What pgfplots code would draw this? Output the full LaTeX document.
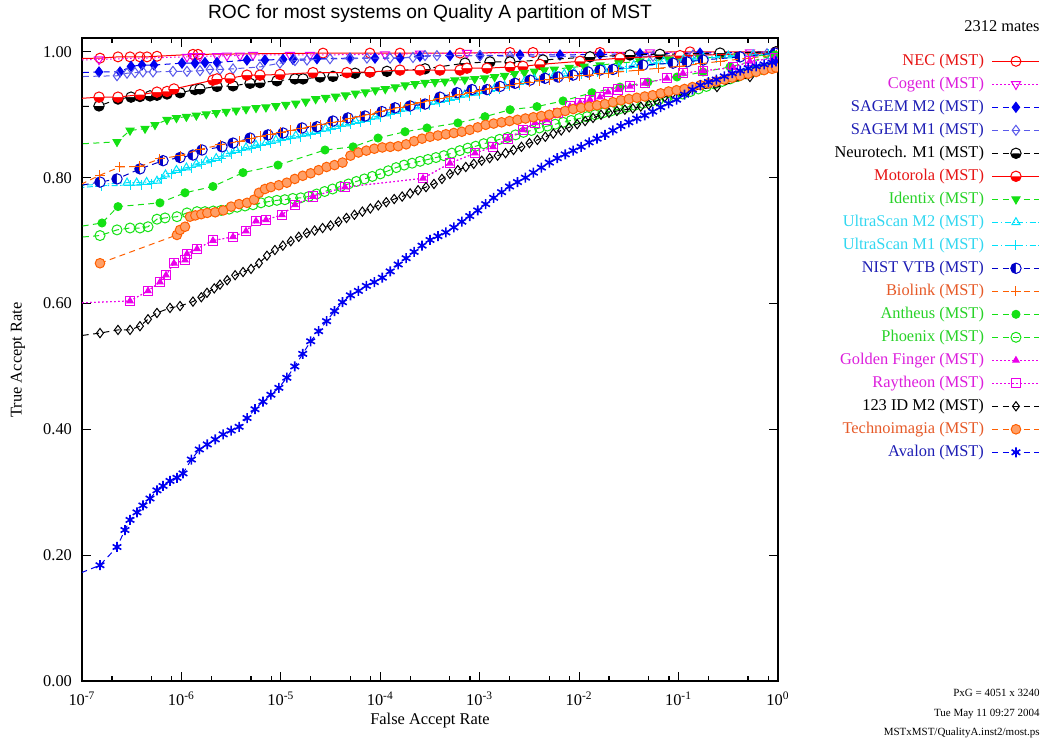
\documentclass[border=0pt]{standalone}
\usepackage{fontspec}
\setmainfont{Liberation Serif}
\newfontfamily\titlefont{Liberation Sans}
\usepackage{pgfplots}
\pgfplotsset{compat=1.18}
\definecolor{cRed}{RGB}{255,0,0}
\definecolor{cMag}{RGB}{235,0,235}
\definecolor{cBlue}{RGB}{0,0,240}
\definecolor{cBlueL}{RGB}{90,90,235}
\definecolor{cGreen}{RGB}{20,225,20}
\definecolor{cCyan}{RGB}{0,225,250}
\definecolor{cNavy}{RGB}{0,0,200}
\definecolor{cOrange}{RGB}{255,95,0}
\definecolor{tRed}{RGB}{230,20,20}
\definecolor{tMag}{RGB}{220,30,220}
\definecolor{tBlue}{RGB}{30,30,180}
\definecolor{tGreen}{RGB}{40,210,40}
\definecolor{tCyan}{RGB}{50,215,240}
\definecolor{tOrange}{RGB}{230,90,40}
\tikzset{dsh/.style={dash pattern=on 3pt off 2.2pt}, dtt/.style={dash pattern=on 0.8pt off 1.2pt}, dshdot/.style={dash pattern=on 3pt off 1.2pt on 0.8pt off 1.2pt}}
\begin{document}
\begin{tikzpicture}
\useasboundingbox (0,0) rectangle (522pt,370.5pt);
\begin{axis}[
  at={(41pt,30pt)}, anchor=south west,
  scale only axis, width=348pt, height=321.5pt,
  xmin=-7, xmax=0, ymin=0, ymax=1.022,
  xtick={-7,-6,-5,-4,-3,-2,-1,0},
  xticklabels={10\textsuperscript{-7},10\textsuperscript{-6},10\textsuperscript{-5},10\textsuperscript{-4},10\textsuperscript{-3},10\textsuperscript{-2},10\textsuperscript{-1},10\textsuperscript{0}},
  minor xtick={-6.699,-6.301,-6.097,-5.699,-5.301,-5.097,-4.699,-4.301,-4.097,-3.699,-3.301,-3.097,-2.699,-2.301,-2.097,-1.699,-1.301,-1.097,-0.699,-0.301,-0.097},
  ytick={0,0.2,0.4,0.6,0.8,1.0},
  yticklabels={0.00,0.20,0.40,0.60,0.80,1.00},
  tick align=inside,
  major tick length=4.5pt, minor tick length=2.5pt,
  tick style={black, line width=0.6pt},
  axis line style={line width=0.8pt},
  ticklabel style={font=\fontsize{8.2}{9}\selectfont},
  yticklabel style={xshift=-1.5pt},
  xticklabel style={yshift=-2pt},
  clip marker paths=true,
  every axis plot/.append style={line width=0.5pt},
  legend cell align=right,
  legend plot pos=right,
  legend image code/.code={\draw[mark repeat=2,mark phase=2] plot coordinates {(0pt,0pt) (11.75pt,0pt) (23.5pt,0pt)};},
  legend style={at={(1.3764,0.977)}, anchor=north east, draw=none, fill=none, inner sep=0pt, outer sep=0pt,
    font=\fontsize{8.2}{9}\selectfont, row sep=3pt, column sep=4pt,
    nodes={inner sep=0pt, text height=6.3pt, text depth=2.2pt}},
]
% NEC
\addplot[cRed, solid, mark=o, mark size=2.5pt, mark options={solid}] coordinates {(-7.2,0.989) (-6.819,0.990) (-6.638,0.992) (-6.517,0.992) (-6.417,0.992) (-6.346,0.992) (-6.246,0.993) (-5.884,0.996) (-5.833,0.996) (-4.576,0.998) (-4.104,0.998) (-3.802,0.998) (-3.198,0.998) (-2.695,0.999) (-2.464,0.999) (-1.790,0.999) (-0.885,1.0) (-0.02,1.0)};
\addlegendentry{\textcolor{tRed}{NEC (MST)}}
% Cogent
\addplot[cMag, dtt, mark=triangle, mark size=2.6pt, mark options={solid, rotate=180}] coordinates {(-7.2,0.986) (-6.829,0.988) (-5.944,0.992) (-5.884,0.993) (-5.813,0.993) (-5.642,0.993) (-5.542,0.994) (-5.411,0.994) (-5.280,0.995) (-4.908,0.995) (-4.707,0.995) (-3.953,0.996) (-3.601,0.997) (-3.128,0.998) (-1.288,0.999) (-0.282,0.999) (-0.02,1.0)};
\addlegendentry{\textcolor{tMag}{Cogent (MST)}}
% SAGEM M2
\addplot[cBlue, dsh, mark=diamond*, mark size=2.5pt, mark options={solid}] coordinates {(-7.2,0.966) (-6.829,0.968) (-6.618,0.968) (-6.507,0.977) (-6.397,0.979) (-6.276,0.979) (-5.994,0.982) (-5.864,0.982) (-5.763,0.983) (-5.642,0.983) (-5.341,0.987) (-5.160,0.987) (-4.978,0.988) (-4.878,0.988) (-4.637,0.989) (-4.305,0.990) (-4.053,0.990) (-3.802,0.990) (-3.601,0.993) (-3.299,0.994) (-2.997,0.994) (-2.595,0.995) (-2.193,0.995) (-1.790,0.996) (-1.388,0.997) (-0.784,0.998) (-0.02,1.0)};
\addlegendentry{\textcolor{tBlue}{SAGEM M2 (MST)}}
% SAGEM M1
\addplot[cBlueL, dsh, mark=diamond, mark size=2.5pt, mark options={solid}] coordinates {(-7.2,0.960) (-6.648,0.962) (-6.547,0.966) (-6.467,0.967) (-6.387,0.968) (-6.286,0.968) (-6.085,0.969) (-5.944,0.969) (-5.813,0.970) (-5.713,0.972) (-5.612,0.972) (-5.481,0.973) (-5.210,0.976) (-5.009,0.982) (-4.858,0.986) (-4.737,0.987) (-4.506,0.989) (-4.305,0.989) (-4.134,0.990) (-3.902,0.990) (-3.671,0.991) (-3.550,0.994) (-3.430,0.994) (-2.997,0.994) (-2.695,0.993) (-1.891,0.992) (-1.257,0.993) (-0.855,0.995) (-0.111,0.997)};
\addlegendentry{\textcolor{tBlue}{SAGEM M1 (MST)}}
% Neurotech
\addplot[black, dsh, mark=halfcircle*, mark size=2.6pt, mark options={solid, fill=black, rotate=180}] coordinates {(-7.2,0.912) (-6.829,0.914) (-6.638,0.925) (-6.507,0.928) (-6.417,0.929) (-6.316,0.930) (-6.246,0.931) (-6.145,0.933) (-6.014,0.935) (-5.864,0.940) (-5.813,0.941) (-5.642,0.945) (-5.481,0.946) (-5.310,0.950) (-5.210,0.951) (-5.039,0.954) (-4.858,0.957) (-4.777,0.957) (-4.606,0.960) (-4.476,0.961) (-4.254,0.966) (-4.104,0.968) (-3.933,0.969) (-3.550,0.973) (-3.148,0.982) (-2.897,0.984) (-2.695,0.984) (-2.364,0.987) (-1.891,0.992) (-1.489,0.995) (-1.187,0.996) (-0.583,0.998) (-0.02,1.0)};
\addlegendentry{\textcolor{black}{Neurotech. M1 (MST)}}
% Motorola
\addplot[cRed, solid, mark=halfcircle*, mark size=2.6pt, mark options={solid, fill=cRed, rotate=180}] coordinates {(-7.2,0.924) (-6.829,0.928) (-6.638,0.928) (-6.417,0.932) (-6.246,0.936) (-6.145,0.937) (-6.075,0.941) (-5.683,0.955) (-5.642,0.957) (-5.512,0.958) (-5.341,0.963) (-5.210,0.963) (-5.009,0.964) (-4.677,0.967) (-4.335,0.967) (-4.104,0.968) (-3.802,0.971) (-3.601,0.971) (-3.400,0.971) (-3.198,0.971) (-3.128,0.974) (-2.927,0.974) (-2.695,0.976) (-2.565,0.977) (-2.394,0.980) (-1.991,0.985) (-1.589,0.990) (-0.986,0.994) (-0.02,0.998)};
\addlegendentry{\textcolor{tRed}{Motorola (MST)}}
% Identix
\addplot[cGreen, dsh, mark=triangle*, mark size=2.3pt, mark options={solid, rotate=180}] coordinates {(-7.2,0.852) (-6.648,0.857) (-6.517,0.875) (-6.366,0.878) (-6.266,0.884) (-6.145,0.892) (-6.05,0.895) (-5.95,0.897) (-5.85,0.899) (-5.75,0.901) (-5.65,0.903) (-5.55,0.905) (-5.45,0.907) (-5.35,0.909) (-5.25,0.911) (-5.15,0.912) (-5.05,0.914) (-4.95,0.916) (-4.85,0.918) (-4.75,0.921) (-4.65,0.925) (-4.55,0.927) (-4.45,0.929) (-4.35,0.931) (-4.25,0.934) (-4.15,0.936) (-4.05,0.939) (-3.95,0.941) (-3.85,0.944) (-3.75,0.947) (-3.65,0.949) (-3.55,0.951) (-3.45,0.952) (-3.35,0.953) (-3.25,0.955) (-3.15,0.956) (-3.05,0.957) (-2.95,0.958) (-2.85,0.960) (-2.75,0.962) (-2.65,0.965) (-2.55,0.967) (-2.45,0.969) (-2.35,0.971) (-2.25,0.972) (-2.10,0.975) (-1.95,0.977) (-1.79,0.979) (-1.6,0.982) (-1.39,0.985) (-1.1,0.988) (-0.78,0.990) (-0.4,0.993) (-0.02,0.995)};
\addlegendentry{\textcolor{tGreen}{Identix (MST)}}
% UltraScan M2
\addplot[cCyan, dshdot, mark=triangle, mark size=2.3pt, mark options={solid}] coordinates {(-7.2,0.786) (-6.547,0.792) (-6.45,0.792) (-6.35,0.793) (-6.246,0.795) (-6.16,0.805) (-6.05,0.812) (-5.95,0.816) (-5.85,0.822) (-5.75,0.827) (-5.65,0.831) (-5.55,0.838) (-5.45,0.844) (-5.35,0.848) (-5.25,0.852) (-5.15,0.856) (-5.05,0.860) (-4.95,0.864) (-4.85,0.867) (-4.75,0.870) (-4.65,0.874) (-4.55,0.878) (-4.45,0.882) (-4.35,0.886) (-4.25,0.890) (-4.15,0.893) (-4.05,0.897) (-3.95,0.902) (-3.85,0.906) (-3.75,0.910) (-3.65,0.913) (-3.55,0.917) (-3.45,0.921) (-3.35,0.925) (-3.25,0.928) (-3.15,0.932) (-3.05,0.935) (-2.95,0.938) (-2.85,0.942) (-2.75,0.946) (-2.65,0.950) (-2.55,0.953) (-2.45,0.957) (-2.35,0.960) (-2.25,0.963) (-2.15,0.965) (-2.05,0.967) (-1.9,0.969) (-1.75,0.972) (-1.6,0.975) (-1.45,0.979) (-1.3,0.982) (-1.15,0.985) (-0.95,0.988) (-0.75,0.991) (-0.5,0.994) (-0.25,0.996) (-0.02,0.998)};
\addlegendentry{\textcolor{tCyan}{UltraScan M2 (MST)}}
% UltraScan M1
\addplot[cCyan, dshdot, mark=+, mark size=2.5pt, mark options={solid}] coordinates {(-7.2,0.782) (-6.799,0.787) (-6.517,0.788) (-6.40,0.789) (-6.30,0.790) (-6.20,0.798) (-6.10,0.806) (-6.00,0.811) (-5.90,0.816) (-5.80,0.821) (-5.70,0.825) (-5.60,0.831) (-5.50,0.838) (-5.40,0.843) (-5.30,0.847) (-5.20,0.851) (-5.10,0.855) (-5.00,0.859) (-4.90,0.862) (-4.80,0.865) (-4.70,0.869) (-4.60,0.873) (-4.50,0.877) (-4.40,0.881) (-4.30,0.885) (-4.20,0.888) (-4.10,0.892) (-4.00,0.897) (-3.90,0.901) (-3.80,0.905) (-3.70,0.908) (-3.60,0.912) (-3.50,0.916) (-3.40,0.920) (-3.30,0.923) (-3.20,0.927) (-3.10,0.930) (-3.00,0.933) (-2.90,0.937) (-2.80,0.941) (-2.70,0.945) (-2.60,0.948) (-2.50,0.952) (-2.40,0.955) (-2.30,0.958) (-2.20,0.961) (-2.10,0.963) (-1.98,0.965) (-1.82,0.968) (-1.67,0.971) (-1.52,0.974) (-1.37,0.978) (-1.22,0.981) (-1.05,0.984) (-0.85,0.987) (-0.62,0.991) (-0.38,0.993) (-0.1,0.996)};
\addlegendentry{\textcolor{tCyan}{UltraScan M1 (MST)}}
% NIST VTB
\addplot[cNavy, dsh, mark=halfcircle*, mark size=2.6pt, mark options={solid, fill=cNavy, rotate=90}] coordinates {(-7.2,0.783) (-6.819,0.793) (-6.648,0.798) (-6.417,0.814) (-6.185,0.827) (-6.014,0.832) (-5.884,0.836) (-5.793,0.844) (-5.592,0.849) (-5.481,0.855) (-5.310,0.863) (-5.129,0.868) (-4.978,0.871) (-4.787,0.879) (-4.637,0.881) (-4.476,0.890) (-4.325,0.895) (-4.154,0.898) (-3.983,0.905) (-3.852,0.911) (-3.701,0.914) (-3.550,0.917) (-3.400,0.928) (-3.229,0.935) (-3.078,0.940) (-2.927,0.940) (-2.796,0.945) (-2.645,0.950) (-2.494,0.955) (-2.343,0.958) (-2.213,0.960) (-2.062,0.963) (-1.911,0.968) (-1.790,0.971) (-1.660,0.972) (-1.358,0.979) (-1.056,0.982) (-0.915,0.984) (-0.754,0.987) (-0.382,0.992) (-0.03,0.998)};
\addlegendentry{\textcolor{tBlue}{NIST VTB (MST)}}
% Biolink
\addplot[cOrange, dsh, mark=+, mark size=2.5pt, mark options={solid}] coordinates {(-7.2,0.775) (-6.819,0.804) (-6.618,0.817) (-6.417,0.818) (-6.216,0.830) (-6.014,0.835) (-5.813,0.845) (-5.612,0.852) (-5.411,0.858) (-5.30,0.862) (-5.20,0.866) (-5.10,0.869) (-5.00,0.872) (-4.90,0.875) (-4.80,0.878) (-4.70,0.881) (-4.60,0.884) (-4.50,0.887) (-4.40,0.890) (-4.30,0.894) (-4.20,0.898) (-4.10,0.901) (-4.00,0.905) (-3.90,0.909) (-3.80,0.912) (-3.70,0.916) (-3.60,0.919) (-3.50,0.923) (-3.40,0.926) (-3.30,0.929) (-3.20,0.932) (-3.10,0.935) (-3.00,0.938) (-2.90,0.941) (-2.80,0.944) (-2.70,0.947) (-2.60,0.950) (-2.50,0.952) (-2.40,0.954) (-2.30,0.956) (-2.20,0.958) (-2.10,0.960) (-2.00,0.962) (-1.90,0.963) (-1.80,0.965) (-1.70,0.966) (-1.60,0.968) (-1.40,0.971) (-1.20,0.974) (-0.99,0.977) (-0.78,0.981) (-0.58,0.985) (-0.3,0.990) (-0.02,0.995)};
\addlegendentry{\textcolor{tOrange}{Biolink (MST)}}
% Antheus
\addplot[cGreen, dsh, mark=*, mark size=2pt, mark options={solid}] coordinates {(-7.2,0.718) (-6.799,0.728) (-6.638,0.754) (-6.216,0.760) (-5.964,0.776) (-5.683,0.786) (-5.381,0.808) (-5.029,0.820) (-4.556,0.844) (-4.274,0.849) (-4.023,0.863) (-3.751,0.873) (-3.530,0.879) (-3.219,0.887) (-2.947,0.897) (-2.695,0.908) (-2.424,0.913) (-2.162,0.922) (-1.871,0.935) (-1.589,0.944) (-1.308,0.952) (-1.016,0.960) (-0.754,0.968) (-0.483,0.976) (-0.03,0.995)};
\addlegendentry{\textcolor{tGreen}{Antheus (MST)}}
% Phoenix
\addplot[cGreen, dsh, mark=o, mark size=2.5pt, mark options={solid}] coordinates {(-7.2,0.703) (-6.819,0.708) (-6.648,0.717) (-6.517,0.720) (-6.417,0.720) (-6.336,0.722) (-6.246,0.734) (-6.165,0.736) (-6.045,0.738) (-5.944,0.744) (-5.843,0.746) (-5.763,0.746) (-5.68,0.747) (-5.60,0.748) (-5.52,0.750) (-5.44,0.753) (-5.36,0.755) (-5.28,0.757) (-5.20,0.760) (-5.12,0.762) (-5.04,0.764) (-4.96,0.765) (-4.88,0.767) (-4.80,0.768) (-4.72,0.770) (-4.64,0.774) (-4.56,0.778) (-4.48,0.782) (-4.40,0.786) (-4.32,0.790) (-4.24,0.794) (-4.16,0.798) (-4.08,0.802) (-4.00,0.806) (-3.92,0.811) (-3.84,0.816) (-3.76,0.820) (-3.68,0.823) (-3.60,0.826) (-3.52,0.829) (-3.44,0.832) (-3.36,0.835) (-3.28,0.839) (-3.20,0.843) (-3.12,0.847) (-3.04,0.850) (-2.96,0.854) (-2.88,0.857) (-2.80,0.861) (-2.72,0.864) (-2.64,0.868) (-2.56,0.872) (-2.48,0.875) (-2.40,0.879) (-2.32,0.882) (-2.24,0.885) (-2.16,0.888) (-2.08,0.891) (-2.00,0.894) (-1.92,0.897) (-1.84,0.900) (-1.76,0.903) (-1.68,0.906) (-1.60,0.909) (-1.52,0.912) (-1.44,0.915) (-1.36,0.918) (-1.28,0.921) (-1.20,0.924) (-1.12,0.927) (-1.04,0.930) (-0.96,0.933) (-0.88,0.937) (-0.80,0.941) (-0.72,0.945) (-0.64,0.949) (-0.56,0.953) (-0.48,0.957) (-0.40,0.961) (-0.32,0.965) (-0.24,0.969) (-0.16,0.972) (-0.08,0.975) (-0.02,0.978)};
\addlegendentry{\textcolor{tGreen}{Phoenix (MST)}}
% Golden Finger
\addplot[cMag, dtt, mark=triangle*, mark size=1.8pt, mark options={solid}] coordinates {(-7.2,0.600) (-6.517,0.604) (-6.336,0.620) (-6.216,0.634) (-6.155,0.645) (-6.075,0.664) (-5.964,0.669) (-5.944,0.679) (-5.843,0.687) (-5.683,0.700) (-5.481,0.706) (-5.351,0.715) (-5.250,0.731) (-5.149,0.733) (-4.989,0.741) (-4.858,0.757) (-4.677,0.770) (-4.355,0.785) (-3.570,0.799) (-3.299,0.823) (-3.047,0.839) (-2.866,0.849) (-2.716,0.862) (-2.565,0.876) (-2.444,0.887) (-2.323,0.892) (-2.213,0.903) (-2.092,0.913) (-1.991,0.919) (-1.891,0.924) (-1.790,0.928) (-1.710,0.936) (-1.609,0.940) (-1.489,0.945) (-1.338,0.950) (-1.117,0.958) (-0.956,0.966) (-0.754,0.970) (-0.453,0.975) (-0.282,0.985) (-0.03,0.990)};
\addlegendentry{\textcolor{tMag}{Golden Finger (MST)}}
% Raytheon
\addplot[cMag, dtt, mark=square, mark size=2.3pt, mark options={solid}] coordinates {(-7.2,0.600) (-6.517,0.604) (-6.336,0.620) (-6.216,0.634) (-6.155,0.645) (-6.075,0.664) (-5.964,0.669) (-5.944,0.679) (-5.843,0.687) (-5.683,0.700) (-5.481,0.706) (-5.351,0.715) (-5.250,0.731) (-5.149,0.733) (-4.989,0.741) (-4.858,0.757) (-4.677,0.770) (-4.355,0.785) (-3.570,0.799) (-3.299,0.823) (-3.047,0.839) (-2.866,0.849) (-2.716,0.862) (-2.565,0.876) (-2.444,0.887) (-2.323,0.892) (-2.213,0.903) (-2.092,0.913) (-1.991,0.919) (-1.891,0.924) (-1.790,0.928) (-1.710,0.936) (-1.609,0.940) (-1.489,0.945) (-1.338,0.950) (-1.117,0.958) (-0.956,0.966) (-0.754,0.970) (-0.453,0.975) (-0.282,0.985) (-0.03,0.990)};
\addlegendentry{\textcolor{tMag}{Raytheon (MST)}}
% 123 ID M2
\addplot[black, dsh, mark=diamond, mark size=2.3pt, mark options={solid}] coordinates {(-7.2,0.545) (-6.819,0.553) (-6.638,0.558) (-6.517,0.558) (-6.417,0.564) (-6.336,0.575) (-6.246,0.585) (-6.115,0.593) (-6.014,0.596) (-5.884,0.603) (-5.80,0.610) (-5.743,0.617) (-5.67,0.624) (-5.612,0.630) (-5.54,0.637) (-5.46,0.645) (-5.38,0.650) (-5.30,0.655) (-5.22,0.664) (-5.14,0.676) (-5.06,0.685) (-4.98,0.692) (-4.90,0.699) (-4.82,0.706) (-4.74,0.712) (-4.66,0.716) (-4.58,0.720) (-4.50,0.724) (-4.42,0.730) (-4.34,0.736) (-4.26,0.741) (-4.18,0.746) (-4.10,0.751) (-4.02,0.756) (-3.94,0.761) (-3.86,0.766) (-3.78,0.770) (-3.70,0.775) (-3.62,0.780) (-3.54,0.785) (-3.46,0.790) (-3.38,0.798) (-3.30,0.806) (-3.22,0.812) (-3.14,0.817) (-3.06,0.822) (-2.98,0.827) (-2.90,0.831) (-2.82,0.835) (-2.74,0.839) (-2.66,0.844) (-2.58,0.849) (-2.50,0.855) (-2.42,0.860) (-2.34,0.865) (-2.26,0.870) (-2.18,0.875) (-2.10,0.880) (-2.02,0.885) (-1.94,0.890) (-1.86,0.895) (-1.78,0.900) (-1.70,0.903) (-1.62,0.906) (-1.54,0.908) (-1.46,0.910) (-1.38,0.913) (-1.30,0.916) (-1.22,0.922) (-1.14,0.928) (-1.06,0.934) (-0.98,0.937) (-0.90,0.939) (-0.614,0.944) (-0.282,0.960) (-0.02,0.980)};
\addlegendentry{\textcolor{black}{123 ID M2 (MST)}}
% Technoimagia
\addplot[cOrange, dsh, mark=*, mark size=2.4pt, mark options={solid, fill=cOrange!60, draw=cOrange}] coordinates {(-6.819,0.664) (-6.045,0.709) (-6.014,0.717) (-5.964,0.722) (-5.914,0.738) (-5.86,0.740) (-5.80,0.742) (-5.74,0.744) (-5.66,0.745) (-5.58,0.748) (-5.50,0.754) (-5.42,0.758) (-5.34,0.760) (-5.27,0.765) (-5.22,0.776) (-5.16,0.782) (-5.10,0.785) (-5.02,0.788) (-4.94,0.792) (-4.86,0.798) (-4.78,0.803) (-4.70,0.807) (-4.62,0.812) (-4.54,0.817) (-4.46,0.820) (-4.38,0.824) (-4.30,0.835) (-4.22,0.840) (-4.14,0.843) (-4.06,0.846) (-3.98,0.848) (-3.90,0.849) (-3.82,0.850) (-3.74,0.853) (-3.66,0.858) (-3.58,0.862) (-3.50,0.865) (-3.42,0.867) (-3.34,0.869) (-3.26,0.871) (-3.18,0.873) (-3.10,0.876) (-3.02,0.880) (-2.94,0.884) (-2.86,0.886) (-2.78,0.888) (-2.70,0.890) (-2.62,0.892) (-2.54,0.894) (-2.46,0.896) (-2.38,0.898) (-2.30,0.900) (-2.22,0.903) (-2.14,0.906) (-2.06,0.909) (-1.98,0.911) (-1.90,0.913) (-1.82,0.915) (-1.74,0.917) (-1.66,0.920) (-1.58,0.923) (-1.50,0.925) (-1.42,0.927) (-1.34,0.929) (-1.26,0.931) (-1.18,0.934) (-1.10,0.937) (-1.02,0.939) (-0.94,0.941) (-0.86,0.944) (-0.78,0.947) (-0.70,0.950) (-0.62,0.953) (-0.54,0.956) (-0.46,0.959) (-0.38,0.962) (-0.30,0.965) (-0.22,0.968) (-0.14,0.971) (-0.06,0.973) (-0.02,0.975)};
\addlegendentry{\textcolor{tOrange}{Technoimagia (MST)}}
% Avalon
\addplot[cBlue, dsh, mark=asterisk, mark size=2.5pt, mark options={solid, line width=0.8pt}] coordinates {(-7.2,0.160) (-6.819,0.184) (-6.648,0.213) (-6.568,0.240) (-6.517,0.256) (-6.447,0.268) (-6.387,0.279) (-6.316,0.290) (-6.246,0.303) (-6.185,0.310) (-6.115,0.318) (-6.045,0.323) (-5.984,0.330) (-5.90,0.352) (-5.82,0.368) (-5.74,0.376) (-5.66,0.384) (-5.58,0.392) (-5.50,0.398) (-5.42,0.404) (-5.34,0.418) (-5.26,0.432) (-5.18,0.444) (-5.10,0.455) (-5.02,0.466) (-4.94,0.482) (-4.86,0.500) (-4.78,0.520) (-4.70,0.540) (-4.62,0.556) (-4.54,0.572) (-4.46,0.588) (-4.38,0.602) (-4.30,0.613) (-4.22,0.620) (-4.14,0.628) (-4.06,0.634) (-3.98,0.641) (-3.90,0.651) (-3.82,0.662) (-3.74,0.672) (-3.66,0.682) (-3.58,0.692) (-3.50,0.701) (-3.42,0.707) (-3.34,0.713) (-3.26,0.721) (-3.18,0.730) (-3.10,0.739) (-3.02,0.748) (-2.94,0.758) (-2.86,0.768) (-2.78,0.777) (-2.70,0.786) (-2.62,0.793) (-2.54,0.800) (-2.46,0.808) (-2.38,0.816) (-2.30,0.824) (-2.22,0.831) (-2.14,0.837) (-2.06,0.843) (-1.98,0.849) (-1.90,0.856) (-1.82,0.862) (-1.74,0.868) (-1.66,0.875) (-1.58,0.882) (-1.50,0.888) (-1.42,0.894) (-1.34,0.899) (-1.26,0.905) (-1.18,0.912) (-1.10,0.918) (-1.02,0.924) (-0.94,0.932) (-0.86,0.940) (-0.78,0.947) (-0.70,0.952) (-0.62,0.956) (-0.54,0.961) (-0.46,0.966) (-0.38,0.970) (-0.30,0.974) (-0.22,0.977) (-0.14,0.980) (-0.06,0.983) (-0.02,0.985)};
\addlegendentry{\textcolor{tBlue}{Avalon (MST)}}
\end{axis}
\node[font=\titlefont\fontsize{9.6}{11}\selectfont] at (215pt,363.5pt) {ROC for most systems on Quality A partition of MST};
\node[font=\fontsize{8.2}{9}\selectfont, rotate=90] at (9pt,190.5pt) {True Accept Rate};
\node[font=\fontsize{8.2}{9}\selectfont] at (215pt,10pt) {False Accept Rate};
\node[font=\fontsize{8.2}{9}\selectfont, anchor=east, inner sep=0pt] at (520pt,357.5pt) {2312 mates};
\node[font=\fontsize{5.5}{6}\selectfont, anchor=east, inner sep=0pt] at (520pt,24pt) {PxG = 4051 x 3240};
\node[font=\fontsize{5.5}{6}\selectfont, anchor=east, inner sep=0pt] at (520pt,13.5pt) {Tue May 11 09:27 2004};
\node[font=\fontsize{5.5}{6}\selectfont, anchor=east, inner sep=0pt] at (520pt,4pt) {MSTxMST/QualityA.inst2/most.ps};
\end{tikzpicture}
\end{document}
